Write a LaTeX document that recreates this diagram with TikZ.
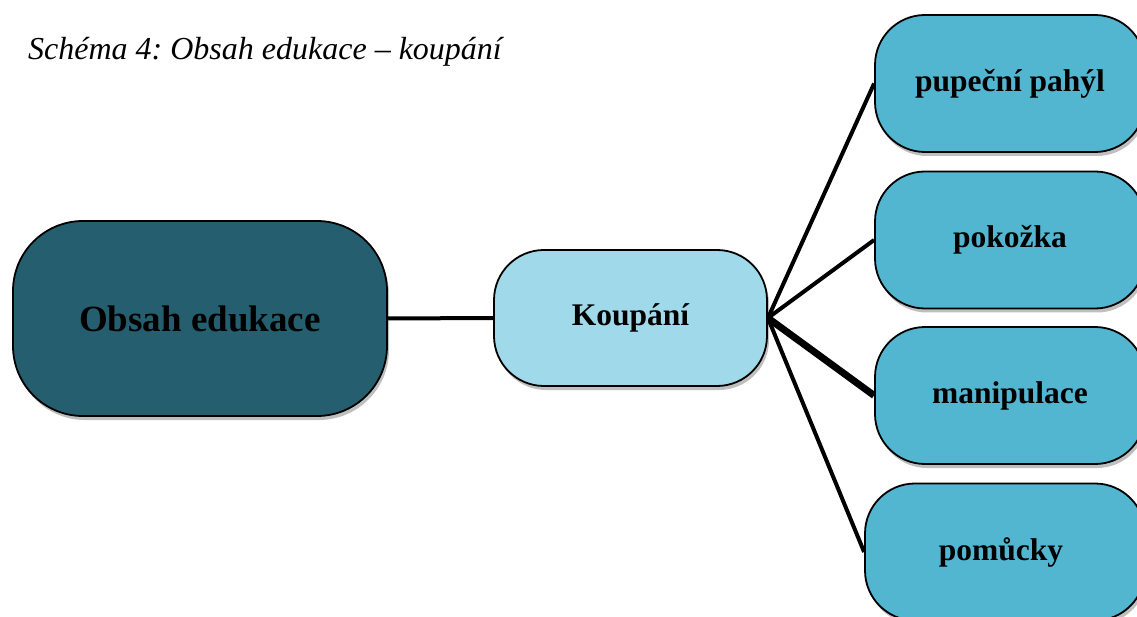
\documentclass[tikz,border=0pt]{standalone}
\usepackage{fontspec}
\setmainfont{Liberation Serif}
\usetikzlibrary{shadows}
\definecolor{darkteal}{HTML}{255F6F}
\definecolor{lightblue}{HTML}{A0D9E9}
\definecolor{midblue}{HTML}{52B6D1}
\tikzset{
  box/.style={draw=black, line width=1.8pt, align=center, inner sep=0pt,
    drop shadow={shadow xshift=2pt, shadow yshift=-4pt, opacity=0.25, fill=black}},
  bigbox/.style={box, fill=darkteal, rounded corners=70pt, minimum width=374pt, minimum height=195pt, font=\bfseries\fontsize{37}{42}\selectfont},
  midbox/.style={box, fill=lightblue, rounded corners=50pt, minimum width=273pt, minimum height=136pt, font=\bfseries\fontsize{31.5}{36}\selectfont},
  leafbox/.style={box, fill=midblue, rounded corners=50pt, minimum width=270pt, minimum height=137pt, font=\bfseries\fontsize{31.5}{36}\selectfont},
  link/.style={draw=black, line width=4pt}
}
\begin{document}
\frenchspacing
\begin{tikzpicture}[x=1pt,y=-1pt]
\useasboundingbox (0,0) rectangle (1137,617);
\clip (0,0) rectangle (1137,617);
\fill[white] (0,0) rectangle (1137,617);
\node[anchor=base west, font=\itshape\fontsize{32}{36}\selectfont, inner sep=0pt] (title) at (28,60) {Schéma 4: Obsah edukace – koupání};
\node[bigbox] (obsah) at (200,318.5) {Obsah edukace};
\node[midbox] (koupani) at (630.5,318) {Koupání};
\node[leafbox] (pupecni) at (1010,83.5) {pupeční pahýl};
\node[leafbox] (pokozka) at (1010,240) {pokožka};
\node[leafbox] (manipulace) at (1010,395.5) {manipulace};
\node[leafbox, minimum width=280pt] (pomucky) at (1005,552) {\hspace*{-8pt}pomůcky};
\draw[link] (obsah.east) -- (koupani.west);
\draw[link] (koupani.east) -- (pupecni.west);
\draw[link] (koupani.east) -- (pokozka.west);
\draw[link, line width=7pt] (koupani.east) -- (manipulace.west);
\draw[link] (koupani.east) -- (pomucky.west);
\end{tikzpicture}
\end{document}
